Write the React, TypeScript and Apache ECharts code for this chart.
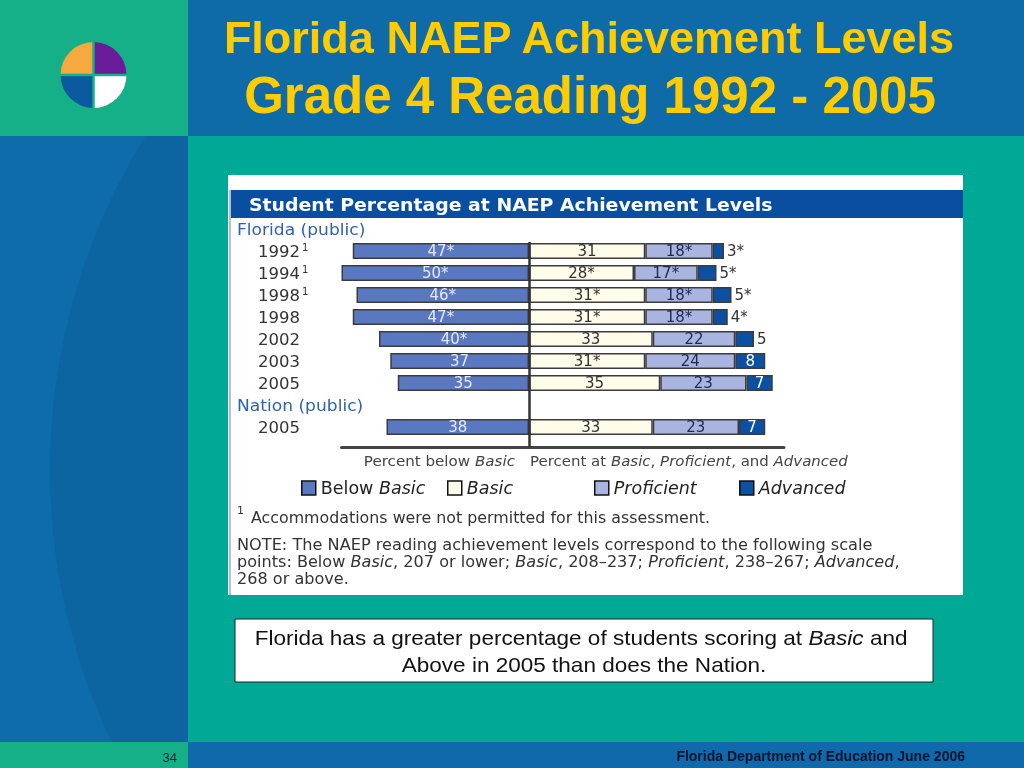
import React, { useEffect, useRef } from 'react';
import * as echarts from 'echarts';

// ---------- data ----------
const rowLabels = ['1992', '1994', '1998', '1998', '2002', '2003', '2005', '', '2005'];
const rowFootnote = [true, true, true, false, false, false, false, false, false];
const belowBasic = [47, 50, 46, 47, 40, 37, 35, null, 38];
const belowStar = [true, true, true, true, true, false, false, false, false];
const basic = [31, 28, 31, 31, 33, 31, 35, null, 33];
const basicStar = [false, true, true, true, false, true, false, false, false];
const proficient = [18, 17, 18, 18, 22, 24, 23, null, 23];
const profStar = [true, true, true, true, false, false, false, false, false];
const advanced = [3, 5, 5, 4, 5, 8, 7, null, 7];
const advStar = [true, true, true, true, false, false, false, false, false];
const groupLabels = ['Florida (public)', 'Nation (public)'];
const levelNames = ['Below Basic', 'Basic', 'Proficient', 'Advanced'];

const CF = 'DejaVu Sans';
const AF = 'Liberation Sans, Arial, sans-serif';
const legendLefts = [296, 442, 589, 734];

function makeSeries(
  name: string,
  values: (number | null)[],
  stars: boolean[],
  color: string,
  labelColor: string,
  sign: number,
  outsideBelow = 0
) {
  return {
    type: 'bar',
    name,
    stack: 'total',
    yAxisIndex: 0,
    barWidth: 16,
    data: values.map((v) => {
      if (v == null) return '-';
      if (v < outsideBelow) {
        return { value: sign * v, label: { position: 'right', color: '#333', distance: 3 } };
      }
      return sign * v;
    }),
    itemStyle: { color, borderColor: '#3c3c3c', borderWidth: 1.5 },
    label: {
      show: true,
      position: 'inside',
      color: labelColor,
      fontFamily: CF,
      fontSize: 15,
      formatter: (p: any) => Math.abs(p.value) + (stars[p.dataIndex] ? '*' : ''),
    },
  };
}

export default function App() {
  const ref = useRef<HTMLDivElement>(null);
  useEffect(() => {
    if (!ref.current) return;
    const chart = echarts.init(ref.current, null, { renderer: 'svg' });

    const seriesBelow: any = makeSeries(levelNames[0], belowBasic, belowStar, '#5A78C0', '#E4E8F6', -1);
    const seriesBasic: any = makeSeries(levelNames[1], basic, basicStar, '#FFFCEA', '#333', 1);
    seriesBasic.markLine = {
      silent: true,
      symbol: 'none',
      label: { show: false },
      lineStyle: { color: '#333', width: 2.5, type: 'solid' },
      data: [[{ xAxis: 0, y: 242 }, { xAxis: 0, y: 447 }]],
    };
    const seriesProf: any = makeSeries(levelNames[2], proficient, profStar, '#A9B5E0', '#1E2A55', 1);
    const seriesAdv: any = makeSeries(levelNames[3], advanced, advStar, '#0B50A2', '#FFFFFF', 1, 6);

    const italic = (size: number, fill: string, family = CF) => ({ i: { fontStyle: 'italic', fontFamily: family, fontSize: size, fill } });

    const graphic: any[] = [
      // slide backgrounds
      { type: 'rect', z: -20, shape: { x: 0, y: 0, width: 1024, height: 768 }, style: { fill: '#0F6CAA' } },
      { type: 'circle', z: -19, shape: { cx: 682, cy: 470, r: 632 }, style: { fill: '#0C65A1' } },
      { type: 'rect', z: -18, shape: { x: 188, y: 136, width: 836, height: 606 }, style: { fill: '#00A896' } },
      { type: 'rect', z: -18, shape: { x: 0, y: 0, width: 188, height: 136 }, style: { fill: '#16B088' } },
      { type: 'rect', z: -18, shape: { x: 188, y: 0, width: 836, height: 136 }, style: { fill: '#0F6BA8' } },
      { type: 'rect', z: -18, shape: { x: 0, y: 742, width: 188, height: 26 }, style: { fill: '#16B088' } },
      { type: 'rect', z: -18, shape: { x: 188, y: 742, width: 836, height: 26 }, style: { fill: '#0F69AA' } },
      // logo
      { type: 'sector', z: -17, shape: { cx: 93.5, cy: 75, r0: 0, r: 33, startAngle: Math.PI, endAngle: Math.PI * 1.5 }, style: { fill: '#F5A93F' } },
      { type: 'sector', z: -17, shape: { cx: 93.5, cy: 75, r0: 0, r: 33, startAngle: -Math.PI / 2, endAngle: 0 }, style: { fill: '#6A1B9A' } },
      { type: 'sector', z: -17, shape: { cx: 93.5, cy: 75, r0: 0, r: 33, startAngle: 0, endAngle: Math.PI / 2 }, style: { fill: '#FFFFFF' } },
      { type: 'sector', z: -17, shape: { cx: 93.5, cy: 75, r0: 0, r: 33, startAngle: Math.PI / 2, endAngle: Math.PI }, style: { fill: '#0B5AA0' } },
      { type: 'line', z: -16, shape: { x1: 93.5, y1: 40, x2: 93.5, y2: 110 }, style: { stroke: '#16B088', lineWidth: 2.5 } },
      { type: 'line', z: -16, shape: { x1: 58, y1: 75, x2: 129, y2: 75 }, style: { stroke: '#16B088', lineWidth: 2.5 } },
      // slide title
      { type: 'text', z: 5, x: 589, y: 37, style: { text: 'Florida NAEP Achievement Levels', fill: '#FFCC00', fontFamily: AF, fontWeight: 'bold', fontSize: 45, align: 'center', verticalAlign: 'middle' } },
      { type: 'text', z: 5, x: 590, y: 95, style: { text: 'Grade 4 Reading 1992 - 2005', fill: '#FFCC00', fontFamily: AF, fontWeight: 'bold', fontSize: 51, align: 'center', verticalAlign: 'middle' } },
      // chart picture frame
      { type: 'rect', z: -15, shape: { x: 228, y: 175, width: 735, height: 420 }, style: { fill: '#FFFFFF' } },
      { type: 'line', z: -14, shape: { x1: 230, y1: 190, x2: 230, y2: 595 }, style: { stroke: '#B4C0D0', lineWidth: 2 } },
      { type: 'rect', z: -14, shape: { x: 231, y: 190, width: 732, height: 28 }, style: { fill: '#0A4F9F' } },
      { type: 'text', z: 5, x: 249, y: 205, scaleX: 1.11, style: { text: 'Student Percentage at NAEP Achievement Levels', fill: '#FFFFFF', fontFamily: CF, fontWeight: 'bold', fontSize: 17, verticalAlign: 'middle' } },
      // group labels
      { type: 'text', z: 5, x: 237, y: 230, scaleX: 1.07, style: { text: groupLabels[0], fill: '#2F62AD', fontFamily: CF, fontSize: 16, verticalAlign: 'middle' } },
      { type: 'text', z: 5, x: 237, y: 406, scaleX: 1.07, style: { text: groupLabels[1], fill: '#2F62AD', fontFamily: CF, fontSize: 16, verticalAlign: 'middle' } },
      // axis captions
      { type: 'text', z: 5, x: 515, y: 461, scaleX: 1.08, style: { text: 'Percent below {i|Basic}', fill: '#444', fontFamily: CF, fontSize: 14, align: 'right', verticalAlign: 'middle', rich: italic(14, '#444') } },
      { type: 'text', z: 5, x: 530, y: 461, scaleX: 1.07, style: { text: 'Percent at {i|Basic}, {i|Proficient}, and {i|Advanced}', fill: '#444', fontFamily: CF, fontSize: 14, verticalAlign: 'middle', rich: italic(14, '#444') } },
      // footnote
      { type: 'text', z: 5, x: 237, y: 510, style: { text: '1', fill: '#333', fontFamily: CF, fontSize: 11, verticalAlign: 'middle' } },
      { type: 'text', z: 5, x: 251, y: 518, scaleX: 1.057, style: { text: 'Accommodations were not permitted for this assessment.', fill: '#333', fontFamily: CF, fontSize: 15, verticalAlign: 'middle' } },
      { type: 'text', z: 5, x: 237, y: 545, scaleX: 1.078, style: { text: 'NOTE: The NAEP reading achievement levels correspond to the following scale', fill: '#333', fontFamily: CF, fontSize: 15, verticalAlign: 'middle' } },
      { type: 'text', z: 5, x: 237, y: 562, scaleX: 1.073, style: { text: 'points: Below {i|Basic}, 207 or lower; {i|Basic}, 208\u2013237; {i|Proficient}, 238\u2013267; {i|Advanced},', fill: '#333', fontFamily: CF, fontSize: 15, verticalAlign: 'middle', rich: italic(15, '#333') } },
      { type: 'text', z: 5, x: 237, y: 579, scaleX: 1.073, style: { text: '268 or above.', fill: '#333', fontFamily: CF, fontSize: 15, verticalAlign: 'middle' } },
      // statement box
      { type: 'rect', z: -14, shape: { x: 235, y: 619, width: 698, height: 63 }, style: { fill: '#FFFFFF', stroke: '#222', lineWidth: 1 } },
      { type: 'text', z: 5, x: 581, y: 638, scaleX: 1.1, style: { text: 'Florida has a greater percentage of students scoring at {i|Basic} and', fill: '#111', fontFamily: AF, fontSize: 20.5, align: 'center', verticalAlign: 'middle', rich: italic(20.5, '#111', AF) } },
      { type: 'text', z: 5, x: 584, y: 665, scaleX: 1.1, style: { text: 'Above in 2005 than does the Nation.', fill: '#111', fontFamily: AF, fontSize: 20.5, align: 'center', verticalAlign: 'middle' } },
      // footer
      { type: 'text', z: 5, x: 177, y: 757, style: { text: '34', fill: '#1A2230', fontFamily: AF, fontSize: 13, align: 'right', verticalAlign: 'middle' } },
      { type: 'text', z: 5, x: 965, y: 756, style: { text: 'Florida Department of Education June 2006', fill: '#0A1530', fontFamily: AF, fontWeight: 'bold', fontSize: 14, align: 'right', verticalAlign: 'middle' } },
    ];

    const legends = levelNames.map((n, i) => ({
      left: legendLefts[i],
      top: 474,
      itemWidth: 14,
      itemHeight: 14,
      icon: 'rect',
      data: [n],
      itemStyle: { borderColor: '#111', borderWidth: 1.5 },
      formatter: (name: string) => (name === 'Below Basic' ? 'Below {i|Basic}' : '{i|' + name + '}'),
      textStyle: {
        fontFamily: CF,
        fontSize: 17.5,
        color: '#222',
        rich: { i: { fontStyle: 'italic', fontFamily: CF, fontSize: 17.5, color: '#222' } },
      },
    }));

    const option: any = {
      animation: false,
      grid: { left: 341.5, top: 240, width: 442.5, height: 198, containLabel: false },
      xAxis: {
        type: 'value',
        min: -50,
        max: 68,
        position: 'bottom',
        offset: 9,
        axisLine: { show: true, onZero: false, lineStyle: { color: '#444', width: 3 } },
        axisTick: { show: false },
        axisLabel: { show: false },
        splitLine: { show: false },
      },
      yAxis: [
        {
          type: 'category',
          inverse: true,
          data: rowLabels,
          axisLine: { show: false },
          axisTick: { show: false },
          axisLabel: { show: false },
        },
        {
          type: 'category',
          inverse: true,
          position: 'left',
          data: rowLabels,
          axisLine: { show: false, onZero: false },
          axisTick: { show: false },
          axisLabel: {
            show: true,
            interval: 0,
            hideOverlap: false,
            align: 'left',
            margin: 83.5,
            color: '#333',
            fontFamily: CF,
            fontSize: 16.5,
            formatter: (v: string, i: number) => (rowFootnote[i] ? v + '{sup|1}' : v),
            rich: { sup: { fontSize: 10, fontFamily: CF, color: '#333', verticalAlign: 'top', padding: [0, 0, 6, 2] } },
          },
        },
      ],
      legend: legends,
      series: [seriesBelow, seriesBasic, seriesProf, seriesAdv],
      graphic,
    };
    chart.setOption(option);
    return () => chart.dispose();
  }, []);
  return <div ref={ref} style={{ position: 'fixed', left: 0, top: 0, width: 1024, height: 768 }} />;
}
